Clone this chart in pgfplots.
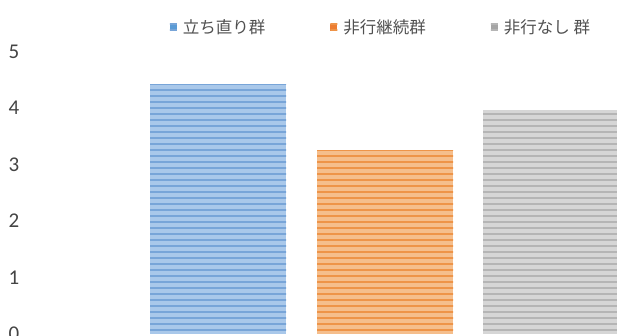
\documentclass[border=0pt]{standalone}
\usepackage{pgfplots}
\pgfplotsset{compat=1.18}
\usetikzlibrary{patterns.meta}
\usepackage{fontspec}
\setmainfont{Carlito}
\newfontfamily\cjk{Noto Sans CJK JP}
\definecolor{tickgray}{HTML}{444444}
\definecolor{leggray}{HTML}{505050}
\definecolor{cblue}{HTML}{A9C8EA}
\definecolor{dblue}{HTML}{78A5D8}
\definecolor{corange}{HTML}{F5BE8C}
\definecolor{dorange}{HTML}{EE9448}
\definecolor{cgray}{HTML}{D6D6D6}
\definecolor{dgray}{HTML}{B5B5B5}
\definecolor{lblue}{HTML}{5B9BD5}
\definecolor{lorange}{HTML}{ED7D31}
\definecolor{lgray}{HTML}{A5A5A5}
\begin{document}
\begin{tikzpicture}
\begin{axis}[
  at={(0pt,2pt)}, anchor=south west,
  scale only axis, width=617pt, height=334pt,
  xmin=0, xmax=617, ymin=0, ymax=5.91,
  axis line style={draw=none}, tick style={draw=none},
  xtick=\empty, ytick={0,1,2,3,4,5},
  /pgf/number format/assume math mode=true,
  yticklabel style={anchor=center, xshift=14pt, font=\fontsize{21}{23}\selectfont, text=tickgray},
  ybar, bar width=136, bar shift=0pt,
  legend columns=3,
  legend style={draw=none, fill=none, at={(0.6175,0.919)}, anchor=center,
    font=\cjk\fontsize{16.5}{18}\selectfont, text=leggray,
    /tikz/every odd column/.append style={column sep=4pt},
    /tikz/every even column/.append style={column sep=63pt}},
]
\addplot[fill=cblue, draw=none, postaction={pattern={Lines[angle=0, distance=6pt, line width=2.5pt]}, pattern color=dblue},
  legend image code/.code={\fill[lblue] (0pt,-3.5pt) rectangle (7pt,3.5pt);}] coordinates {(218,4.42)};
\addplot[fill=corange, draw=none, postaction={pattern={Lines[angle=0, distance=6pt, line width=2.5pt]}, pattern color=dorange},
  legend image code/.code={\fill[lorange] (0pt,-3.5pt) rectangle (7pt,3.5pt);}] coordinates {(385,3.24)};
\addplot[fill=cgray, draw=none, postaction={pattern={Lines[angle=0, distance=6pt, line width=2.5pt]}, pattern color=dgray},
  legend image code/.code={\fill[lgray] (0pt,-3.5pt) rectangle (7pt,3.5pt);}] coordinates {(551,3.96)};
\legend{立ち直り群, 非行継続群, 非行なし 群}
\end{axis}
\pgfresetboundingbox
\useasboundingbox (0,0) rectangle (617pt,336pt);
\end{tikzpicture}
\end{document}
